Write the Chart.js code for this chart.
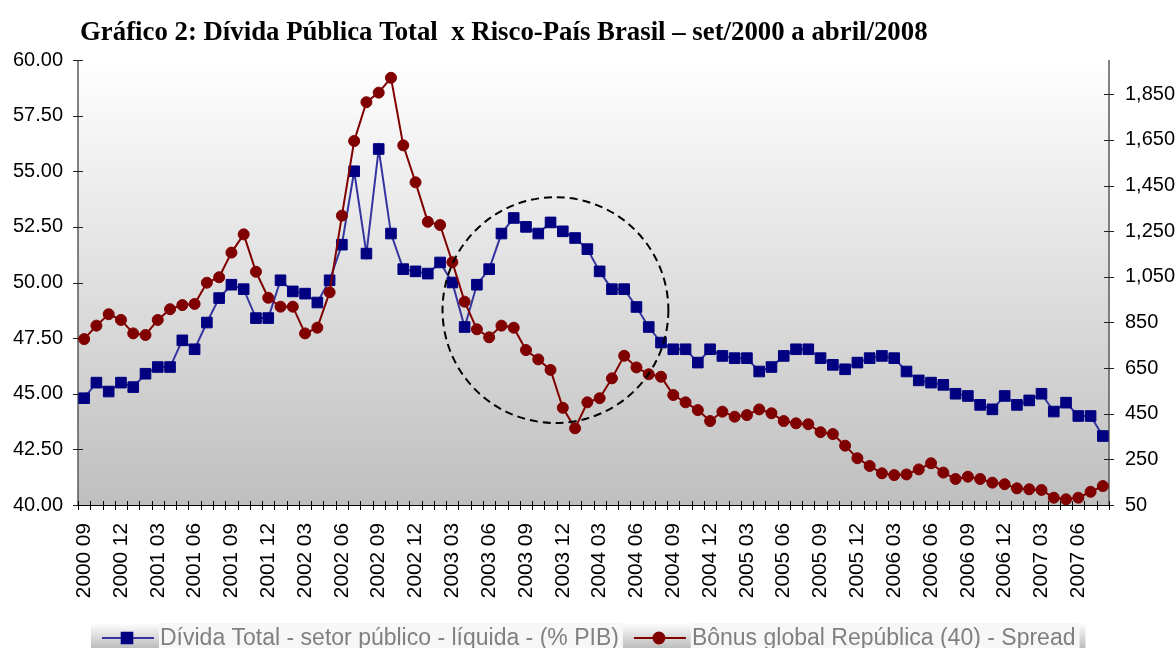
<!DOCTYPE html>
<html>
<head>
<meta charset="utf-8">
<script src="https://cdn.jsdelivr.net/npm/chart.js@4.4.1/dist/chart.umd.min.js"></script>
<style>
  html, body { margin: 0; padding: 0; background: #fff; }
</style>
</head>
<body>
<canvas id="chart" width="1176" height="648"></canvas>
<script>
const chartTitle = 'Gráfico 2: Dívida Pública Total  x Risco-País Brasil – set/2000 a abril/2008';

// monthly categories, 2000 09 .. 2007 08
const months = [];
for (let y = 2000, m = 9; months.length < 84; m++) {
  if (m > 12) { m = 1; y++; }
  months.push(y + ' ' + String(m).padStart(2, '0'));
}

// net public debt, % of GDP (left axis)
const dividaPib = [
  44.8, 45.5, 45.1, 45.5, 45.3, 45.9, 46.2, 46.2, 47.4, 47.0,
  48.2, 49.3, 49.9, 49.7, 48.4, 48.4, 50.1, 49.6, 49.5, 49.1,
  50.1, 51.7, 55.0, 51.3, 56.0, 52.2, 50.6, 50.5, 50.4, 50.9,
  50.0, 48.0, 49.9, 50.6, 52.2, 52.9, 52.5, 52.2, 52.7, 52.3,
  52.0, 51.5, 50.5, 49.7, 49.7, 48.9, 48.0, 47.3, 47.0, 47.0,
  46.4, 47.0, 46.7, 46.6, 46.6, 46.0, 46.2, 46.7, 47.0, 47.0,
  46.6, 46.3, 46.1, 46.4, 46.6, 46.7, 46.6, 46.0, 45.6, 45.5,
  45.4, 45.0, 44.9, 44.5, 44.3, 44.9, 44.5, 44.7, 45.0, 44.2,
  44.6, 44.0, 44.0, 43.1
];

// global bond spread, basis points (right axis)
const spreadBonus = [
  777, 836, 886, 861, 802, 795, 861, 908, 926, 931,
  1024, 1048, 1156, 1236, 1072, 958, 919, 919, 802, 827,
  982, 1318, 1645, 1815, 1857, 1922, 1626, 1464, 1291, 1277,
  1114, 941, 820, 785, 836, 827, 729, 688, 642, 476,
  386, 500, 518, 605, 704, 653, 623, 612, 532, 500,
  466, 418, 459, 437, 444, 469, 452, 418, 408, 404,
  369, 361, 310, 255, 221, 189, 181, 184, 206, 233,
  192, 164, 174, 164, 148, 141, 123, 119, 116, 82,
  75, 82, 108, 133
];

const leftTicks = [40, 42.5, 45, 47.5, 50, 52.5, 55, 57.5, 60];
const rightTicks = [50, 250, 450, 650, 850, 1050, 1250, 1450, 1650, 1850];

// dashed ring around the 2003 debt hump, in data units
const highlight = { index: 38.4, value: 48.76, span: 9.2 };

const axisFont = { family: 'Liberation Sans', size: 20 };

const plotBackground = {
  id: 'plotBackground',
  beforeDraw(chart) {
    const { ctx, chartArea: a } = chart;
    const g = ctx.createLinearGradient(0, a.top, 0, a.bottom);
    g.addColorStop(0, '#ffffff');
    g.addColorStop(1, '#bfbfbf');
    ctx.save();
    ctx.fillStyle = g;
    ctx.fillRect(a.left, a.top, a.right - a.left, a.bottom - a.top);
    ctx.restore();
  }
};

function segment(ctx, x1, y1, x2, y2) {
  ctx.beginPath();
  ctx.moveTo(x1, y1);
  ctx.lineTo(x2, y2);
  ctx.stroke();
}

// axis lines with cross tick marks
const axisMarks = {
  id: 'axisMarks',
  beforeDatasetsDraw(chart) {
    const { ctx, chartArea: a, scales } = chart;
    ctx.save();
    ctx.strokeStyle = '#5a5a5a';
    ctx.lineWidth = 1.5;
    segment(ctx, a.left, a.top, a.left, a.bottom);
    segment(ctx, a.right, a.top, a.right, a.bottom);
    ctx.lineWidth = 1;
    ctx.strokeStyle = '#222';
    leftTicks.forEach(v => {
      const y = Math.round(scales.yDivida.getPixelForValue(v)) + 0.5;
      segment(ctx, a.left - 5, y, a.left + 5, y);
    });
    rightTicks.forEach(v => {
      const y = Math.round(scales.ySpread.getPixelForValue(v)) + 0.5;
      segment(ctx, a.right - 5, y, a.right + 5, y);
    });
    ctx.strokeStyle = '#000';
    segment(ctx, a.left, a.bottom + 0.5, a.right, a.bottom + 0.5);
    for (let i = 0; i <= months.length; i++) {
      const x = Math.round(scales.x.getPixelForValue(i - 0.5)) + 0.5;
      segment(ctx, x, a.bottom - 4, x, a.bottom + 5);
    }
    ctx.restore();
  }
};

const highlightRing = {
  id: 'highlightRing',
  afterDatasetsDraw(chart) {
    const { ctx, scales } = chart;
    const cx = scales.x.getPixelForValue(highlight.index);
    const cy = scales.yDivida.getPixelForValue(highlight.value);
    const r = scales.x.getPixelForValue(highlight.index + highlight.span) - cx;
    ctx.save();
    ctx.strokeStyle = '#000';
    ctx.lineWidth = 2;
    ctx.setLineDash([8, 5]);
    ctx.beginPath();
    ctx.arc(cx, cy, r, 0, Math.PI * 2);
    ctx.stroke();
    ctx.restore();
  }
};

// title above and the boxed key below the axis labels
const headerAndKey = {
  id: 'headerAndKey',
  afterDraw(chart) {
    const { ctx, chartArea } = chart;
    ctx.save();
    ctx.fillStyle = '#000';
    ctx.textBaseline = 'alphabetic';
    ctx.textAlign = 'left';
    ctx.font = 'bold 26.8px "Liberation Serif"';
    ctx.fillText(chartTitle, chartArea.left + 2, 40);

    ctx.font = '23px "Liberation Sans"';
    const swatchW = 68, gap = 5, stripW = 6;
    const top = 623, bottom = 648, midY = 638;
    const items = chart.data.datasets.map(ds => ({ ds, w: ctx.measureText(ds.label).width }));
    const total = items.reduce((s, it) => s + swatchW + it.w + gap, 0) + stripW;
    let x = Math.round((chart.width - total) / 2);
    items.forEach(({ ds, w }) => {
      const g = ctx.createLinearGradient(0, top, 0, bottom);
      g.addColorStop(0, '#ffffff');
      g.addColorStop(1, '#bdbdbd');
      ctx.fillStyle = g;
      ctx.fillRect(x, top, swatchW, bottom - top);
      ctx.fillStyle = '#f7f7f7';
      ctx.fillRect(x + swatchW, top, w + gap, bottom - top);

      ctx.strokeStyle = ds.borderColor;
      ctx.lineWidth = 2;
      segment(ctx, x + 11, midY, x + swatchW - 5, midY);
      ctx.fillStyle = ds.pointBackgroundColor;
      ctx.strokeStyle = ds.pointBorderColor;
      Chart.helpers.drawPoint(ctx, {
        pointStyle: ds.pointStyle, radius: ds.pointRadius, rotation: 0, borderWidth: 1
      }, x + swatchW / 2 + 2, midY);

      ctx.fillStyle = '#808080';
      ctx.fillText(ds.label, x + swatchW + 1, 645);
      x += swatchW + w + gap;
    });
    const s = ctx.createLinearGradient(0, top, 0, bottom);
    s.addColorStop(0, '#ffffff');
    s.addColorStop(1, '#bdbdbd');
    ctx.fillStyle = s;
    ctx.fillRect(x, top, stripW, bottom - top);
    ctx.restore();
  }
};

const ctx = document.getElementById('chart').getContext('2d');
new Chart(ctx, {
  type: 'line',
  data: {
    labels: months,
    datasets: [
      {
        label: 'Dívida Total - setor público - líquida - (% PIB)',
        data: dividaPib,
        yAxisID: 'yDivida',
        borderColor: '#3535a0',
        borderWidth: 2,
        pointStyle: 'rect',
        pointRadius: 7.5,
        pointBackgroundColor: '#000080',
        pointBorderColor: '#000080',
        pointBorderWidth: 1,
        tension: 0,
        order: 1,
      },
      {
        label: 'Bônus global República (40) - Spread',
        data: spreadBonus,
        yAxisID: 'ySpread',
        borderColor: '#800000',
        borderWidth: 2,
        pointStyle: 'circle',
        pointRadius: 5.5,
        pointBackgroundColor: '#800000',
        pointBorderColor: '#800000',
        pointBorderWidth: 1,
        tension: 0,
        order: 0,
      },
    ],
  },
  options: {
    responsive: false,
    animation: false,
    layout: { padding: { top: 60 } },
    scales: {
      x: {
        type: 'category',
        offset: true,
        grid: { display: false, drawTicks: false },
        border: { display: false },
        ticks: {
          autoSkip: false,
          minRotation: 90,
          maxRotation: 90,
          padding: 18,
          color: '#000',
          font: { family: 'Liberation Sans', size: 20.8 },
          callback: (v, i) => (i % 3 === 0 ? months[i] : ''),
        },
        afterFit: s => { s.height = 143; },
      },
      yDivida: {
        position: 'left',
        min: 40,
        max: 60,
        grid: { display: false, drawTicks: false },
        border: { display: false },
        afterBuildTicks: s => { s.ticks = leftTicks.map(v => ({ value: v })); },
        ticks: { padding: 15, color: '#000', font: axisFont, callback: v => v.toFixed(2) },
        afterFit: s => { s.width = 78; },
      },
      ySpread: {
        position: 'right',
        min: 50,
        max: 2000,
        grid: { display: false, drawTicks: false },
        border: { display: false },
        afterBuildTicks: s => { s.ticks = rightTicks.map(v => ({ value: v })); },
        ticks: { padding: 16, color: '#000', font: axisFont, callback: v => v.toLocaleString('en-US') },
        afterFit: s => { s.width = 67; },
      },
    },
    plugins: {
      legend: { display: false },
      tooltip: { enabled: false },
      title: { display: false },
    },
  },
  plugins: [plotBackground, axisMarks, highlightRing, headerAndKey],
});
</script>
</body>
</html>
